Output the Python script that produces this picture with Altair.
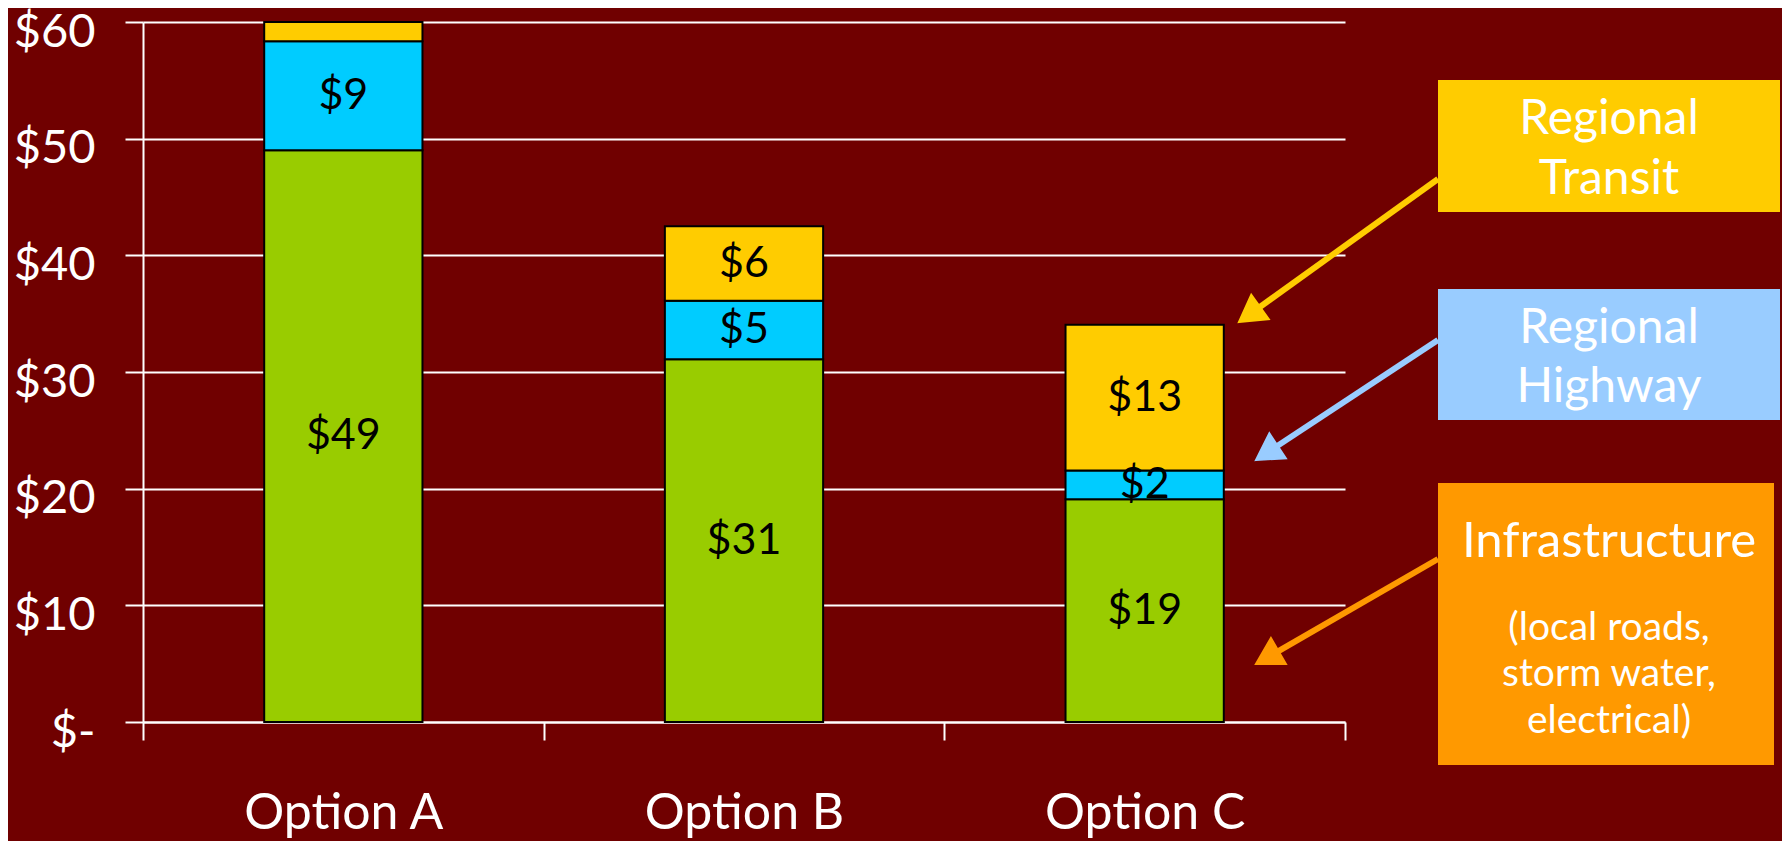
import math
import altair as alt
import pandas as pd

# ---- data ----
options = ["Option A", "Option B", "Option C"]
infrastructure = [49.0, 31.1, 19.1]
highway = [9.35, 5.0, 2.45]
transit = [1.65, 6.4, 12.5]
infra_labels = ["$49", "$31", "$19"]
highway_labels = ["$9", "$5", "$2"]
transit_labels = ["", "$6", "$13"]
y_ticks = [0, 10, 20, 30, 40, 50, 60]

components = ["Infrastructure", "Regional Highway", "Regional Transit"]
bar_colors = ["#99CC00", "#00CCFF", "#FFCC00"]

FONT = "Lato"
BG = "#700000"

rows = []
for i, opt in enumerate(options):
    base = 0.0
    for k, (comp, vals, labs) in enumerate(
        zip(components, [infrastructure, highway, transit],
            [infra_labels, highway_labels, transit_labels])):
        v = vals[i]
        rows.append(dict(option=opt, component=comp, order=k,
                         y0=base, y1=base + v, mid=base + v / 2, label=labs[i]))
        base += v
df = pd.DataFrame(rows)

W, H = 1202, 700

x_enc = alt.X("option:N", sort=options,
              scale=alt.Scale(paddingInner=0, paddingOuter=0),
              axis=alt.Axis(title=None, labelFontSize=50, labelColor="white",
                            labelFont=FONT, labelAngle=0, tickBand="extent",
                            tickColor="white", tickSize=18, tickWidth=2,
                            domainColor="white", domainWidth=2, labelPadding=48,
                            labelLimit=0))
y_scale = alt.Scale(domain=[0, 60], nice=False)

bars = alt.Chart(df).mark_bar(width={"band": 0.395}, stroke="black", strokeWidth=2).encode(
    x=x_enc,
    y=alt.Y("y0:Q", scale=y_scale,
            axis=alt.Axis(title=None, values=y_ticks,
                          labelExpr="datum.value == 0 ? '$-' : '$' + datum.value",
                          labelFontSize=47, labelColor="white", labelFont=FONT,
                          tickColor="white", tickSize=18, tickWidth=2,
                          domainColor="white", domainWidth=2,
                          grid=True, gridColor="white", gridWidth=2,
                          labelPadding=30, labelLimit=0, labelOffset=10)),
    y2="y1:Q",
    color=alt.Color("component:N", scale=alt.Scale(domain=components, range=bar_colors),
                    legend=None),
)

labels = alt.Chart(df).mark_text(font=FONT, fontSize=43, color="black").encode(
    x=alt.X("option:N", sort=options),
    y=alt.Y("mid:Q", scale=y_scale),
    text="label:N",
)

one = alt.Data(values=[{}])


def box(x1, x2, y1, y2, fill):
    return alt.Chart(one).mark_rect(fill=fill).encode(
        x=alt.value(x1), x2=alt.value(x2), y=alt.value(y1), y2=alt.value(y2))


def txt(x, y, s, size):
    return alt.Chart(one).mark_text(font=FONT, fontSize=size, color="white",
                                    align="center", baseline="middle", text=s).encode(
        x=alt.value(x), y=alt.value(y))


def arrow(x1, y1, x2, y2, color):
    dx, dy = x2 - x1, y2 - y1
    L = math.hypot(dx, dy)
    ux, uy = dx / L, dy / L
    head = 30
    cx, cy = x2 - ux * head * 0.43, y2 - uy * head * 0.43
    ang = math.degrees(math.atan2(dx, -dy)) % 360
    line = alt.Chart(one).mark_rule(stroke=color, strokeWidth=6).encode(
        x=alt.value(x1), y=alt.value(y1), x2=alt.value(cx), y2=alt.value(cy))
    tip = alt.Chart(one).mark_point(shape="triangle-up", filled=True, fill=color,
                                    stroke=color, opacity=1, size=head * head,
                                    angle=ang).encode(x=alt.value(cx), y=alt.value(cy))
    return [line, tip]


bx1, bx2 = 1295, 1637
bcx = (bx1 + bx2) / 2
annot = []
annot += arrow(bx1, 157, 1096, 300, "#FFCC00")
annot += arrow(bx1, 318, 1113, 438, "#99CCFF")
annot += arrow(bx1, 537, 1113, 642, "#FF9900")
annot += [box(bx1, bx2, 58, 190, "#FFCC00"),
          txt(bcx, 98, "Regional", 48), txt(bcx, 158, "Transit", 48)]
annot += [box(bx1, bx2, 267, 398, "#99CCFF"),
          txt(bcx, 307, "Regional", 48), txt(bcx, 366, "Highway", 48)]
annot += [box(bx1, bx2 - 6, 461, 743, "#FF9900"),
          txt(bcx, 520, "Infrastructure", 49),
          txt(bcx, 606, "(local roads,", 39),
          txt(bcx, 652, "storm water,", 39),
          txt(bcx, 699, "electrical)", 39)]

chart = alt.layer(bars, labels, *annot).properties(
    width=W, height=H,
    autosize=alt.AutoSizeParams(type="none"),
    padding={"left": 135, "top": 14, "right": 437, "bottom": 119},
).configure(background=BG).configure_view(stroke=None)

chart.save("out.html", embed_options={"renderer": "svg", "actions": False})
